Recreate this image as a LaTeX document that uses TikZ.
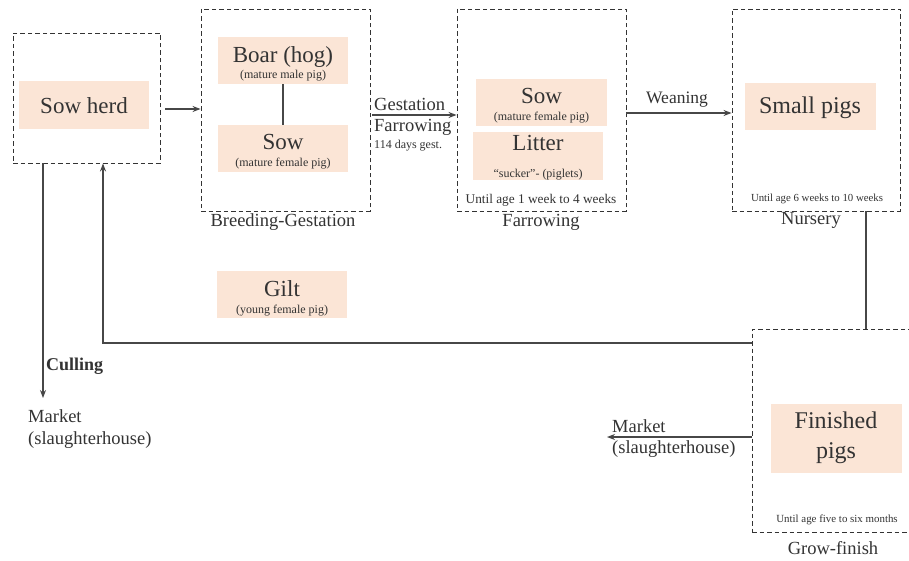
\documentclass[tikz,border=0pt]{standalone}
\usepackage{fontspec}
\setmainfont{Liberation Serif}
\usetikzlibrary{arrows.meta}
\definecolor{peach}{HTML}{FBE5D6}
\definecolor{ink}{HTML}{333333}
\begin{document}
\begin{tikzpicture}[x=1pt,y=-1pt,
  dbox/.style={draw=ink, dash pattern=on 4.5pt off 3pt, line width=0.9pt, inner sep=0pt},
  fillbox/.style={fill=peach, inner sep=0pt},
  conn/.style={draw=ink!90, line width=1.2pt},
  arr/.style={conn, -{Stealth[length=8pt,width=6pt]}},
  txt/.style={inner sep=0pt, text=ink},
  big/.style={txt, font=\fontsize{23}{27}\selectfont},
  small/.style={txt, font=\fontsize{12}{14}\selectfont},
  lab/.style={txt, font=\fontsize{18.5}{21}\selectfont},
  note/.style={txt, font=\fontsize{11}{13}\selectfont}]
\useasboundingbox (0,0) rectangle (909,561);
\clip (0,0) rectangle (909,561);
\fill[white] (0,0) rectangle (909,561);

% dashed stage boxes
\node[dbox, minimum width=147pt, minimum height=130pt] (herd) at (86.5,98) {};
\node[dbox, minimum width=169pt, minimum height=202pt] (breed) at (285.5,110) {};
\node[dbox, minimum width=169pt, minimum height=202pt] (farrow) at (541.5,110) {};
\node[dbox, minimum width=168pt, minimum height=202pt] (nurs) at (816,110) {};
\node[dbox, minimum width=170pt, minimum height=203pt] (grow) at (837,430.5) {};

% filled boxes
\node[fillbox, minimum width=130pt, minimum height=48pt] (fherd) at (84,105) {};
\node[fillbox, minimum width=130pt, minimum height=47pt] (fboar) at (283,60.5) {};
\node[fillbox, minimum width=130pt, minimum height=47pt] (fsowa) at (283,148.5) {};
\node[fillbox, minimum width=131pt, minimum height=47pt] (fsowb) at (541.5,102.5) {};
\node[fillbox, minimum width=130pt, minimum height=48pt] (flitter) at (538,156) {};
\node[fillbox, minimum width=131pt, minimum height=47pt] (fsmall) at (810.5,106.5) {};
\node[fillbox, minimum width=130pt, minimum height=47pt] (fgilt) at (282,294.5) {};
\node[fillbox, minimum width=131pt, minimum height=69pt] (ffin) at (836.5,438.5) {};

% texts
\node[big] (tHerd) at (84,106) {Sow herd};
\node[big] (tBoar) at (283,57) {Boar (hog)};
\node[small] (tBoarS) at (283,76) {(mature male pig)};
\node[big] (tSowa) at (283,142) {Sow};
\node[small] (tSowaS) at (283,164) {(mature female pig)};
\node[lab] (tBreed) at (283,222) {Breeding-Gestation};

\node[lab, anchor=west] (tGest) at (374,104) {Gestation};
\node[lab, anchor=west] (tFarr) at (374,127) {Farrowing};
\node[note, anchor=west, font=\fontsize{12}{14}\selectfont] (tDays) at (374,146) {114 days gest.};

\node[big] (tSowb) at (541.5,96) {Sow};
\node[small] (tSowbS) at (541.5,118) {(mature female pig)};
\node[big] (tLitter) at (538,143) {Litter};
\node[small] (tLitterS) at (538,175) {“sucker”- (piglets)};
\node[note, font=\fontsize{13.3}{15}\selectfont] (tUntilA) at (541,200) {Until age 1 week to 4 weeks};
\node[lab] (tFarrow) at (541,222) {Farrowing};

\node[lab, font=\fontsize{17.5}{20}\selectfont] (tWean) at (677,100) {Weaning};
\node[big, font=\fontsize{24}{28}\selectfont] (tSmall) at (810,108) {Small pigs};
\node[note, font=\fontsize{10.8}{13}\selectfont] (tUntilB) at (817,199) {Until age 6 weeks to 10 weeks};
\node[lab] (tNurs) at (811,220) {Nursery};

\node[big, font=\fontsize{24}{30}\selectfont, align=center] (tFin) at (836,438) {Finished\\pigs};
\node[note, font=\fontsize{10.9}{12}\selectfont] (tUntilC) at (837,520) {Until age five to six months};
\node[lab] (tGrow) at (833,548) {Grow-finish};

\node[lab, anchor=west, align=left, font=\fontsize{18.5}{21.5}\selectfont] (mktR) at (612,438.5) {Market\\(slaughterhouse)};

\node[big] (tGilt) at (282,289) {Gilt};
\node[small] (tGiltS) at (282,311) {(young female pig)};

\node[lab, anchor=west, font=\bfseries\fontsize{18}{21}\selectfont] (tCull) at (46,366) {Culling};
\node[lab, anchor=west, align=left, font=\fontsize{18.5}{22}\selectfont] (mktL) at (28,429) {Market\\(slaughterhouse)};

% level coordinates
\coordinate (yA) at (0,109);
\coordinate (yB) at (0,115);
\coordinate (yC) at (0,113);
\coordinate (xN) at (866,0);
\coordinate (yR) at (0,343);
\coordinate (xR) at (103,0);
\coordinate (xC) at (43,0);
\coordinate (cullend) at (43,398);
\coordinate (yM) at (0,437);
\coordinate (mktend) at (607,437);

% connectors
\draw[arr] ([xshift=5pt]herd.east |- yA) -- (breed.west |- yA);
\draw[arr] ([xshift=2pt]breed.east |- yB) -- (farrow.west |- yB);
\draw[arr] (farrow.east |- yC) -- (nurs.west |- yC);
\draw[conn] (nurs.south -| xN) -- (grow.north -| xN);
\draw[arr] (grow.west |- yR) -| (herd.south -| xR);
\draw[arr] (herd.south -| xC) -- (cullend);
\draw[arr] (grow.west |- yM) -- (mktend);
\draw[conn] (fboar.south) -- (fsowa.north);
\end{tikzpicture}
\end{document}
